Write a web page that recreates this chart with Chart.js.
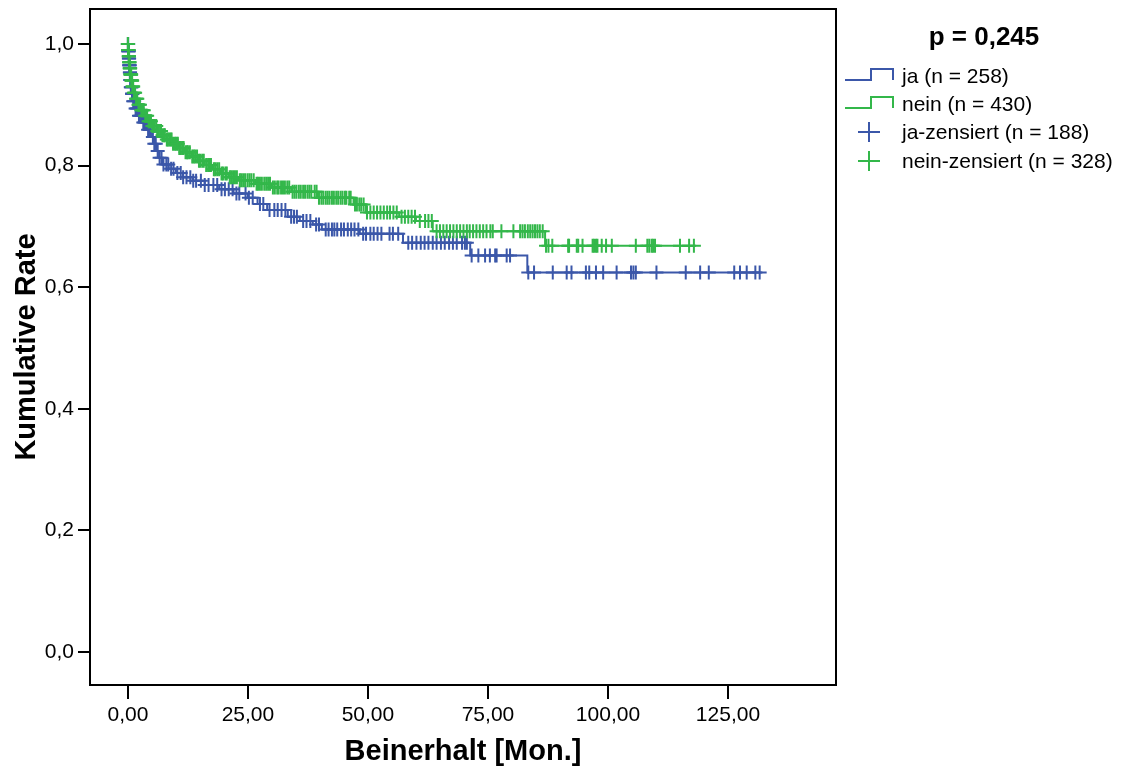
<!DOCTYPE html>
<html>
<head>
<meta charset="utf-8">
<title>Kumulative Rate – Beinerhalt</title>
<script src="https://cdn.jsdelivr.net/npm/chart.js@4"></script>
<style>
  html, body { margin: 0; padding: 0; background: #fff; }
  #wrap { width: 1128px; height: 769px; }
</style>
</head>
<body>
<div id="wrap"><canvas id="kmChart" width="1128" height="769"></canvas></div>
<script>
// Kaplan-Meier Schätzung, Gruppe "ja": Ereigniszeitpunkte und Rate danach
const jaTimes = [0, 0.1, 0.2, 0.3, 0.4, 0.5, 0.6, 0.8, 1.0, 1.5, 2.2, 3.0, 4.0, 4.8, 5.4, 6.0, 6.5, 7.3, 8.5,
  10.0, 11.5, 13.5, 16.0, 19.0, 22.0, 25.0, 27.0, 29.0, 33.3, 35.8, 38.5, 40.4, 48.3, 57.3, 71.3, 83.2];
const jaRates = [1.0, 0.988, 0.976, 0.965, 0.953, 0.941, 0.929, 0.918, 0.906, 0.894, 0.882, 0.871, 0.859, 0.847,
  0.836, 0.824, 0.813, 0.802, 0.795, 0.788, 0.781, 0.775, 0.768, 0.761, 0.754, 0.747, 0.737, 0.727, 0.716,
  0.709, 0.703, 0.695, 0.688, 0.673, 0.652, 0.624];
const jaCensored = [0.0, 0.0, 0.05, 0.1, 0.1, 0.15, 0.2, 0.25, 0.3, 0.3, 0.35, 0.4, 0.45, 0.5, 0.55, 0.6, 0.7,
  0.75, 0.85, 0.9, 0.95, 1.1, 1.3, 1.6, 1.8, 2.0, 2.3, 2.5, 2.8, 3.2, 3.4, 3.6, 3.9, 4.2, 4.5, 4.7,
  5.2, 5.5, 5.8, 6.2, 6.6, 7.0, 7.4, 8.0, 8.4, 9.0, 9.5, 10.3, 11.0, 11.5, 12.2, 13.0, 13.6, 14.2, 15.2,
  16.0, 16.8, 17.8, 18.6, 19.5, 20.2, 21.0, 21.8, 22.6, 23.2, 24.5, 25.2, 26.0, 27.5, 28.2, 29.5,
  30.5, 31.2, 32.0, 32.8, 34.0, 34.6, 35.2, 36.5, 37.2, 38.0, 39.2, 39.8, 41.2, 41.8, 42.5, 43.0, 43.6,
  44.4, 45.0, 45.8, 46.5, 47.2, 48.0, 49.0, 49.6, 50.5, 51.2, 52.0, 52.8, 54.5, 55.2, 56.3,
  58.4, 59.2, 60.1, 61.0, 61.8, 62.6, 63.5, 64.3, 65.2, 66.0, 66.9, 67.7, 68.5, 69.6, 70.2, 70.6,
  71.6, 73.0, 74.4, 75.4, 76.5, 76.8, 78.9, 79.6, 83.4, 84.6, 88.5, 91.4, 92.4, 95.4, 96.1, 97.5,
  99.0, 101.8, 104.8, 105.3, 105.8, 110.1, 116.2, 119.2, 121.0, 126.3, 127.5, 128.9, 130.7, 131.6];

// Gruppe "nein"
const neinTimes = [0, 0.05, 0.15, 0.25, 0.35, 0.5, 0.7, 0.9, 1.2, 1.6, 2.1, 2.7, 3.4, 4.2, 5.0, 6.0, 7.0, 8.0,
  9.2, 10.5, 11.8, 13.2, 14.6, 16.0, 17.6, 19.3, 21.0, 23.0, 26.5, 30.0, 34.0, 39.5, 47.0, 49.6, 56.5,
  60.0, 63.5, 86.9];
const neinRates = [1.0, 0.990, 0.980, 0.970, 0.960, 0.950, 0.940, 0.930, 0.920, 0.910, 0.900, 0.891, 0.882,
  0.873, 0.865, 0.857, 0.850, 0.843, 0.836, 0.829, 0.822, 0.815, 0.808, 0.801, 0.794, 0.787, 0.781, 0.776,
  0.770, 0.764, 0.757, 0.747, 0.736, 0.723, 0.716, 0.709, 0.692, 0.668];
const neinCensored = [0.0, 0.0, 0.03, 0.05, 0.08, 0.1, 0.13, 0.17, 0.2, 0.22, 0.26, 0.3, 0.33, 0.37, 0.4,
  0.44, 0.47, 0.52, 0.55, 0.6, 0.64, 0.68, 0.73, 0.78, 0.82, 0.88, 0.95, 1.0, 1.1, 1.25, 1.35, 1.5, 1.7,
  1.8, 1.95, 2.2, 2.35, 2.5, 2.8, 2.95, 3.1, 3.3, 3.6, 3.8, 4.0, 4.3, 4.5, 4.8,
  5.1, 5.3, 5.6, 5.9, 6.1, 6.4, 6.7, 6.9, 7.2, 7.5, 7.7, 8.1, 8.3, 8.6, 8.9, 9.1, 9.4, 9.8,
  10.1, 10.4, 10.7, 11.0, 11.3, 11.6, 12.0, 12.3, 12.5, 12.9, 13.4, 13.7, 14.0, 14.4, 14.8, 15.1, 15.5,
  15.8, 16.3, 16.7, 17.0, 17.3, 17.9, 18.2, 18.6, 19.0, 19.5, 19.8,
  20.3, 20.6, 21.2, 21.5, 21.9, 22.3, 22.7, 23.3, 23.6, 24.0, 24.4, 24.9, 25.3, 25.7, 26.2, 26.8, 27.1,
  27.5, 27.9, 28.4, 28.8, 29.2, 29.6, 30.2, 30.6, 31.1, 31.4, 31.9, 32.3, 32.7, 33.2, 33.6, 34.3, 34.7,
  35.1, 35.6, 36.0, 36.5, 36.9, 37.4, 37.8, 38.2, 38.9, 39.3, 39.8, 40.3, 40.7, 41.2, 41.6, 42.0, 42.5,
  42.9, 43.4, 43.8, 44.3, 44.7, 45.2, 45.5, 46.1, 46.4, 47.3, 47.7, 48.2, 48.6, 49.1, 49.8,
  50.5, 51.2, 51.9, 52.6, 53.3, 54.0, 54.6, 55.3, 56.0, 57.0, 57.7, 58.4, 59.1, 59.8, 60.8, 61.9, 62.6,
  63.3, 64.3, 65.0, 65.7, 66.4, 67.1, 67.8, 68.5, 69.2, 69.9, 70.6, 71.2, 71.9, 72.6, 73.3, 74.0, 74.7,
  75.5, 76.0, 77.8, 80.3, 81.7, 82.2, 82.7, 83.3, 83.8, 84.3, 84.8, 85.3, 85.8, 86.4,
  87.1, 87.6, 88.4, 91.7, 91.9, 93.5, 93.8, 94.7, 96.8, 97.1, 97.5, 97.8, 98.7, 99.6, 100.8, 105.8,
  108.2, 108.6, 109.1, 109.4, 109.8, 115.0, 116.9, 117.9];

const xTicks = [0, 25, 50, 75, 100, 125];
const yTicks = [0, 0.2, 0.4, 0.6, 0.8, 1.0];

const legendTitle = 'p = 0,245';
const legendLabels = ['ja (n = 258)', 'nein (n = 430)', 'ja-zensiert (n = 188)', 'nein-zensiert (n = 328)'];

const BLUE = '#3b57a9';
const GREEN = '#33b74a';
const FONT = '"Liberation Sans", Arial, sans-serif';

function rateAt(times, rates, t) {
  let r = rates[0];
  for (let i = 0; i < times.length; i++) {
    if (times[i] <= t) r = rates[i];
  }
  return r;
}

function stepLine(times, rates, censored) {
  const pts = times.map((t, i) => ({ x: t, y: rates[i] }));
  pts.push({ x: Math.max(...censored), y: rates[rates.length - 1] });
  return pts;
}

function censorPoints(times, rates, censored) {
  return censored.map(t => ({ x: t, y: rateAt(times, rates, t) }));
}

const comma = (v, d) => v.toFixed(d).replace('.', ',');

// Rahmen um die Zeichenfläche
const framePlugin = {
  id: 'frame',
  afterDatasetsDraw(chart) {
    const { ctx, chartArea: a } = chart;
    ctx.save();
    ctx.strokeStyle = '#000';
    ctx.lineWidth = 2;
    ctx.strokeRect(a.left, a.top, a.right - a.left, a.bottom - a.top);
    ctx.restore();
  }
};

// Legende rechts mit Stufen- und Kreuzsymbolen
const legendPlugin = {
  id: 'kmLegend',
  afterDraw(chart) {
    const ctx = chart.ctx;
    const rows = [76, 104, 132, 161];
    const colors = [BLUE, GREEN, BLUE, GREEN];
    ctx.save();
    ctx.fillStyle = '#000';
    ctx.font = 'bold 26px ' + FONT;
    ctx.textAlign = 'center';
    ctx.textBaseline = 'alphabetic';
    ctx.fillText(legendTitle, 984, 45);

    ctx.font = '21px ' + FONT;
    ctx.textAlign = 'left';
    ctx.textBaseline = 'middle';
    ctx.lineWidth = 2;
    rows.forEach((c, i) => {
      ctx.strokeStyle = colors[i];
      ctx.beginPath();
      if (i < 2) {
        ctx.moveTo(845, c + 4);
        ctx.lineTo(871, c + 4);
        ctx.lineTo(871, c - 7);
        ctx.lineTo(893, c - 7);
        ctx.lineTo(893, c + 4);
      } else {
        ctx.moveTo(858, c);
        ctx.lineTo(880, c);
        ctx.moveTo(869, c - 10);
        ctx.lineTo(869, c + 10);
      }
      ctx.stroke();
      ctx.fillStyle = '#000';
      ctx.fillText(legendLabels[i], 902, c + 1);
    });
    ctx.restore();
  }
};

const ctx = document.getElementById('kmChart');

const data = {
  datasets: [
    {
      type: 'scatter',
      label: 'nein-zensiert',
      data: censorPoints(neinTimes, neinRates, neinCensored),
      pointStyle: 'cross',
      pointRadius: 7,
      borderColor: GREEN,
      borderWidth: 2,
      backgroundColor: GREEN
    },
    {
      type: 'line',
      label: 'nein',
      data: stepLine(neinTimes, neinRates, neinCensored),
      stepped: 'before',
      borderColor: GREEN,
      borderWidth: 2,
      pointRadius: 0,
      fill: false
    },
    {
      type: 'scatter',
      label: 'ja-zensiert',
      data: censorPoints(jaTimes, jaRates, jaCensored),
      pointStyle: 'cross',
      pointRadius: 7,
      borderColor: BLUE,
      borderWidth: 2,
      backgroundColor: BLUE
    },
    {
      type: 'line',
      label: 'ja',
      data: stepLine(jaTimes, jaRates, jaCensored),
      stepped: 'before',
      borderColor: BLUE,
      borderWidth: 2,
      pointRadius: 0,
      fill: false
    }
  ]
};

const config = {
  type: 'scatter',
  data: data,
  options: {
    responsive: false,
    animation: false,
    devicePixelRatio: 1,
    layout: {
      autoPadding: false,
      padding: { left: 0, top: 9, right: 292, bottom: 0 }
    },
    plugins: {
      legend: { display: false },
      tooltip: { enabled: false }
    },
    scales: {
      x: {
        type: 'linear',
        min: -7.9,
        max: 147.5,
        afterBuildTicks: s => { s.ticks = xTicks.map(v => ({ value: v })); },
        afterFit: s => { s.height = 84; s.paddingLeft = 0; s.paddingRight = 0; },
        border: { display: false },
        grid: { drawOnChartArea: false, drawTicks: true, tickLength: 14, color: '#000', lineWidth: 2 },
        ticks: {
          color: '#000',
          padding: 4,
          maxRotation: 0,
          font: { family: FONT, size: 21 },
          callback: v => comma(v, 2)
        },
        title: {
          display: true,
          text: 'Beinerhalt [Mon.]',
          color: '#000',
          font: { family: FONT, size: 29, weight: 'bold' },
          padding: { top: 0, bottom: 0 }
        }
      },
      y: {
        type: 'linear',
        min: -0.0543,
        max: 1.0576,
        afterBuildTicks: s => { s.ticks = yTicks.map(v => ({ value: v })); },
        afterFit: s => { s.width = 90; s.paddingTop = 0; s.paddingBottom = 0; },
        border: { display: false },
        grid: { drawOnChartArea: false, drawTicks: true, tickLength: 12, color: '#000', lineWidth: 2 },
        ticks: {
          color: '#000',
          padding: 4,
          font: { family: FONT, size: 21 },
          callback: v => comma(v, 1)
        },
        title: {
          display: true,
          text: 'Kumulative Rate',
          color: '#000',
          font: { family: FONT, size: 29, weight: 'bold' },
          padding: { top: 10, bottom: 0 }
        }
      }
    }
  },
  plugins: [framePlugin, legendPlugin]
};

new Chart(ctx, config);
</script>
</body>
</html>
